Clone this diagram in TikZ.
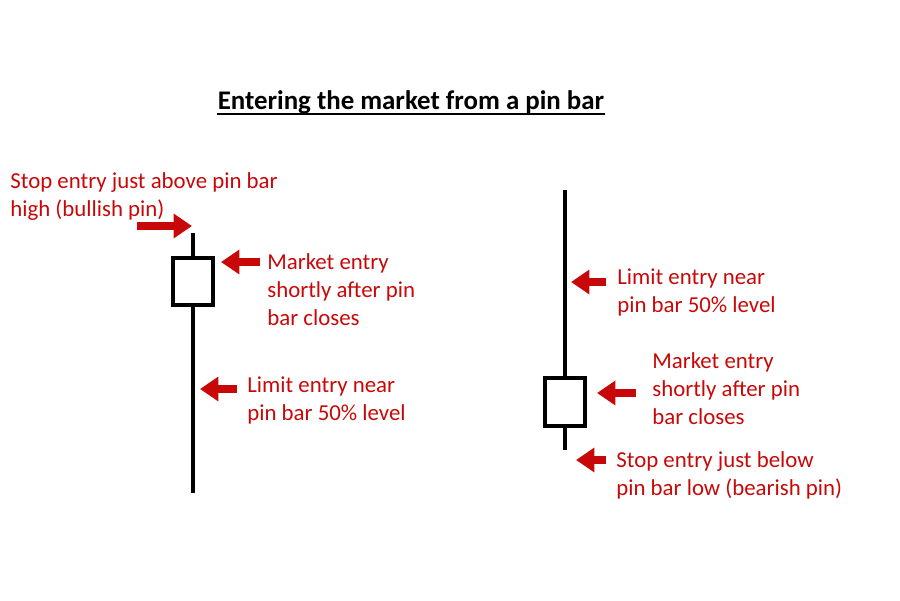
\documentclass[tikz,border=0pt]{standalone}
\usepackage{fontspec}
\setmainfont{Carlito}
\usetikzlibrary{arrows.meta}
\definecolor{pinred}{RGB}{200,8,8}

\tikzset{
  note/.style={anchor=north west, inner sep=0pt, align=left, text=pinred,
    font=\fontsize{13}{16}\selectfont},
  entry/.style={draw=pinred, line width=4.5pt, -{Triangle[length=10.5pt,width=13.5pt]}},
  wick/.style={draw, line width=1.9pt},
  candle/.style={rectangle, draw, line width=1.9pt, fill=white, minimum width=40*0.02cm, inner sep=0pt}
}

\begin{document}
\begin{tikzpicture}[x=0.02cm, y=-0.02cm]
\useasboundingbox (0,0) rectangle (900,600);

\node (title) [inner sep=0pt, font=\fontsize{15.3}{18}\selectfont\bfseries] at (411,102) {Entering the market from a pin bar};
\draw [line width=1.1pt] ([yshift=-2.6pt]title.base west) -- ([yshift=-2.6pt]title.base east);

% bullish pin bar
\node (lbody) [candle, minimum height=47*0.02cm] at (193,281.5) {};
\coordinate (lhigh) at (193,233);
\coordinate (llow) at (193,493);
\draw [wick] (lhigh) -- (lbody.north);
\draw [wick] (lbody.south) -- (llow);

\node (lstop) [note] at (10,172) {Stop entry just above pin bar\\high (bullish pin)};
\node (lmkt) [note] at (267,253) {Market entry\\shortly after pin\\bar closes};
\node (llim) [note] at (247,376) {Limit entry near\\pin bar 50\% level};

\coordinate (ls1) at (137,226); \coordinate (ls2) at (192,226);
\coordinate (lm1) at (260,262); \coordinate (lm2) at (221,262);
\coordinate (ll1) at (237,389); \coordinate (ll2) at (200,389);
\draw [entry] (ls1) -- (ls2);
\draw [entry] (lm1) -- (lm2);
\draw [entry] (ll1) -- (ll2);

% bearish pin bar
\node (rbody) [candle, minimum height=48*0.02cm] at (565,402) {};
\coordinate (rhigh) at (565,190);
\coordinate (rlow) at (565,450);
\draw [wick] (rhigh) -- (rbody.north);
\draw [wick] (rbody.south) -- (rlow);

\node (rlim) [note] at (617,268) {Limit entry near\\pin bar 50\% level};
\node (rmkt) [note] at (652,352) {Market entry\\shortly after pin\\bar closes};
\node (rstop) [note] at (616,451) {Stop entry just below\\pin bar low (bearish pin)};

\coordinate (rl1) at (606,282); \coordinate (rl2) at (571,282);
\coordinate (rm1) at (636,393); \coordinate (rm2) at (597,393);
\coordinate (rs1) at (606,460); \coordinate (rs2) at (576,460);
\draw [entry] (rl1) -- (rl2);
\draw [entry] (rm1) -- (rm2);
\draw [entry] (rs1) -- (rs2);
\end{tikzpicture}
\end{document}
